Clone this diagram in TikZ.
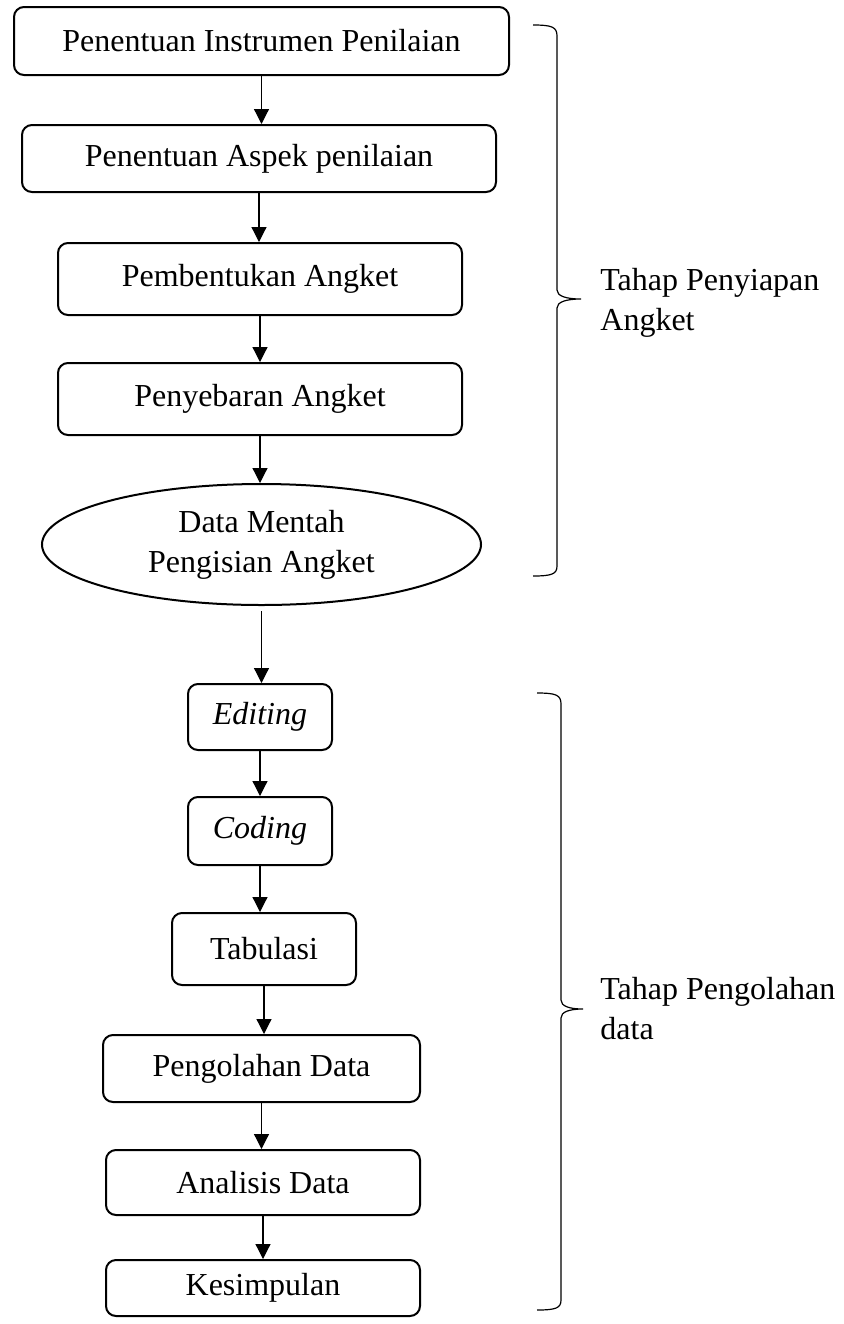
\documentclass[tikz,border=0pt]{standalone}
\usepackage{fontspec}
\setmainfont{Liberation Serif}
\usetikzlibrary{shapes.geometric,arrows.meta}

\tikzset{
  kotak/.style={draw, line width=1pt, rounded corners=5pt, align=center, inner sep=0pt},
  elips/.style={draw, ellipse, line width=1pt, align=center, inner sep=0pt},
  panah/.style={-{Triangle[length=7.5pt,width=7.5pt]}, line width=0.6pt},
  kurung/.style={line width=0.6pt},
  tahap/.style={anchor=north west, align=left, inner sep=0pt},
}

\begin{document}
\begin{tikzpicture}[x=0.5pt, y=-0.5pt, font=\fontsize{16}{20}\selectfont]
    \useasboundingbox (0,0) rectangle (844,1324);
    % tahap penyiapan angket
    \node[kotak, minimum width=247.5pt, minimum height=34pt] (instrumen) at (261.5,41) {Penentuan Instrumen Penilaian};
    \node[kotak, minimum width=237pt, minimum height=33.5pt] (aspek) at (259,158.5) {Penentuan Aspek penilaian};
    \node[kotak, minimum width=202pt, minimum height=36pt] (bentuk) at (260,279) {Pembentukan Angket};
    \node[kotak, minimum width=202pt, minimum height=36pt] (sebar) at (260,399) {Penyebaran Angket};
    \node[elips, minimum width=219.5pt, minimum height=60.5pt] (mentah) at (261.5,544.5) {Data Mentah\\Pengisian Angket};
    % tahap pengolahan data
    \node[kotak, minimum width=72pt, minimum height=33pt] (editing) at (260,717) {\textit{Editing}};
    \node[kotak, minimum width=72pt, minimum height=34pt] (coding) at (260,831) {\textit{Coding}};
    \node[kotak, minimum width=92pt, minimum height=36pt] (tabulasi) at (264,949) {Tabulasi};
    \node[kotak, minimum width=158.5pt, minimum height=33.5pt] (olah) at (261.5,1068.5) {Pengolahan Data};
    \node[kotak, minimum width=157pt, minimum height=32.5pt] (analisis) at (263,1182.5) {Analisis Data};
    \node[kotak, minimum width=157pt, minimum height=28pt] (simpul) at (263,1288) {Kesimpulan};

    \draw[panah] (instrumen.south) -- (instrumen.south |- aspek.north);
    \draw[panah] (aspek.south) -- (aspek.south |- bentuk.north);
    \draw[panah] (bentuk.south) -- (bentuk.south |- sebar.north);
    \draw[panah] (sebar.south) -- (sebar.south |- mentah.north);
    \draw[panah] ([yshift=-2.5pt]mentah.south) -- (mentah.south |- editing.north);
    \draw[panah] (editing.south) -- (editing.south |- coding.north);
    \draw[panah] (coding.south) -- (coding.south |- tabulasi.north);
    \draw[panah] (tabulasi.south) -- (tabulasi.south |- olah.north);
    \draw[panah] (olah.south) -- (olah.south |- analisis.north);
    \draw[panah] (analisis.south) -- (analisis.south |- simpul.north);

    % kurung kurawal
    \draw[kurung] (533,25) .. controls (552,25) and (557,27) .. (557,36) -- (557,290)
        .. controls (557,296) and (566,299) .. (581,299)
        .. controls (566,299) and (557,302) .. (557,308) -- (557,566)
        .. controls (557,574) and (552,576) .. (533,576);
    \draw[kurung] (537,693) .. controls (556,693) and (561,695) .. (561,704) -- (561,1000)
        .. controls (561,1006) and (569,1009) .. (583,1009)
        .. controls (569,1009) and (561,1012) .. (561,1018) -- (561,1300)
        .. controls (561,1308) and (556,1310) .. (537,1310);
    \node[tahap] (siap) at (600,268) {Tahap Penyiapan\\Angket};
    \node[tahap] (olahdata) at (600,977) {Tahap Pengolahan\\data};
\end{tikzpicture}
\end{document}
